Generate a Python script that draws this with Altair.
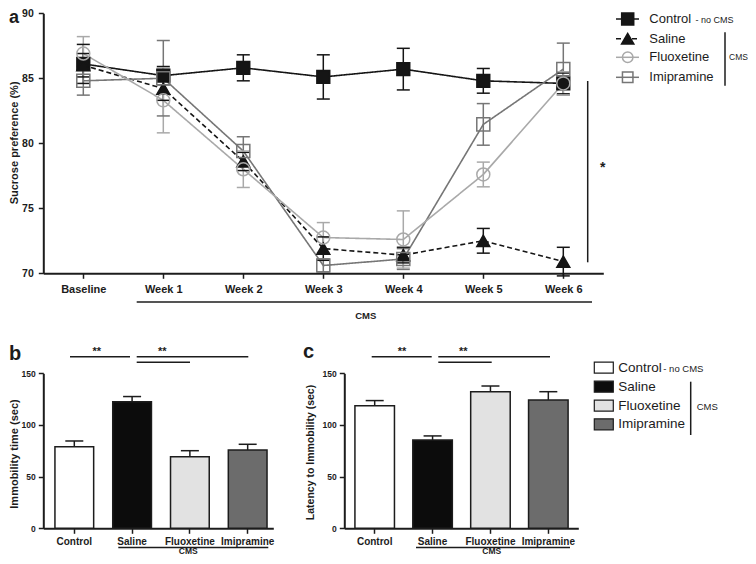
import altair as alt
import pandas as pd

# ---------------- data ----------------
weeks = ["Baseline", "Week 1", "Week 2", "Week 3", "Week 4", "Week 5", "Week 6"]
groups = ["Control", "Saline", "Fluoxetine", "Imipramine"]

control_mean = [86.1, 85.2, 85.8, 85.1, 85.7, 84.8, 84.6]
control_sem = [1.5, 0.7, 1.0, 1.7, 1.6, 0.95, 0.8]
saline_mean = [86.0, 84.2, 78.6, 71.9, 71.4, 72.5, 70.9]
saline_sem = [0.9, 0.9, 0.7, 0.9, 0.6, 0.95, 1.1]
fluox_mean = [86.9, 83.3, 78.0, 72.75, 72.6, 77.6, 84.6]
fluox_sem = [1.3, 2.5, 1.4, 1.15, 2.2, 0.95, 0.9]
imip_mean = [84.8, 85.0, 79.4, 70.6, 71.1, 81.45, 85.7]
imip_sem = [1.1, 2.9, 1.1, 0.5, 0.8, 1.6, 2.0]

immobility_mean = [79.0, 122.5, 69.3, 75.8]
immobility_sem = [5.5, 5.0, 5.8, 5.5]
latency_mean = [118.6, 85.4, 132.2, 124.2]
latency_sem = [5.0, 4.0, 5.5, 8.0]

# ---------------- layout / style ----------------
W, H = 740, 548
M = 8


def P(v):
    return v - M


FONT = "Liberation Sans"
INK = "#1c1c1c"
line_colors = ["#151515", "#151515", "#a9a9a9", "#767676"]
bar_fills = ["#ffffff", "#0c0c0c", "#e2e2e2", "#6c6c6c"]
shapes = ["square", "triangle-up", "circle", "square"]
point_fills = ["#151515", "#151515", "transparent", "transparent"]
point_sizes = [165, 170, 130, 130]
dashes = [[1, 0], [5, 3], [1, 0], [1, 0]]

means = {"Control": control_mean, "Saline": saline_mean,
         "Fluoxetine": fluox_mean, "Imipramine": imip_mean}
sems = {"Control": control_sem, "Saline": saline_sem,
        "Fluoxetine": fluox_sem, "Imipramine": imip_sem}
draw_order = ["Control", "Saline", "Imipramine", "Fluoxetine"]
rows = []
for g in draw_order:
    for w, m, s in zip(weeks, means[g], sems[g]):
        rows.append({"week": w, "group": g, "mean": m, "lo": m - s, "hi": m + s})
df_a = pd.DataFrame(rows)

df_b = pd.DataFrame({"group": groups, "mean": immobility_mean,
                     "hi": [m + s for m, s in zip(immobility_mean, immobility_sem)]})
df_c = pd.DataFrame({"group": groups, "mean": latency_mean,
                     "hi": [m + s for m, s in zip(latency_mean, latency_sem)]})
one = pd.DataFrame({"k": [0]})

common_axis = dict(grid=False, domainColor=INK, domainWidth=2, tickColor=INK,
                   tickWidth=1.5, tickSize=5, labelColor=INK, labelFont=FONT,
                   labelFontWeight="bold", labelOverlap=False, titleFont=FONT,
                   titleColor=INK, titleFontWeight="bold")

# ---------------- panel a ----------------
xa_scale = alt.Scale(type="point", domain=weeks, range=[P(43.3), P(603.3)], padding=0.5)
ya_scale = alt.Scale(domain=[70, 90], range=[P(273.3), P(13.2)], nice=False, zero=False)
xa_axis = alt.Axis(orient="bottom", offset=-(H - P(273.3)), title=None, labelAngle=0,
                   labelFontSize=11, labelPadding=5, **common_axis)
ya_axis = alt.Axis(orient="left", offset=-P(43.3), values=[70, 75, 80, 85, 90],
                   title="Sucrose preference (%)", labelFontSize=10.5, labelPadding=5,
                   titleFontSize=11, titleAngle=270, titleAlign="center",
                   titleBaseline="middle", titleX=P(14) - P(43.3), titleY=P(142.4),
                   **common_axis)


def xa():
    return alt.X("week:N", sort=weeks, scale=xa_scale, axis=xa_axis)


def ya(field):
    return alt.Y(field, scale=ya_scale, axis=ya_axis)


color_a = alt.Color("group:N", scale=alt.Scale(domain=groups, range=line_colors), legend=None)

base_a = alt.Chart(df_a)
lines_a = base_a.mark_line(strokeWidth=1.6).encode(
    x=xa(), y=ya("mean:Q"), color=color_a,
    strokeDash=alt.StrokeDash("group:N", scale=alt.Scale(domain=groups, range=dashes), legend=None),
)
err_a = base_a.mark_rule(strokeWidth=1.5).encode(x=xa(), y=ya("lo:Q"), y2="hi:Q", color=color_a)
caps_hi_a = base_a.mark_tick(orient="horizontal", size=13, thickness=1.5, opacity=1).encode(
    x=xa(), y=ya("hi:Q"), color=color_a)
caps_lo_a = base_a.mark_tick(orient="horizontal", size=13, thickness=1.5, opacity=1).encode(
    x=xa(), y=ya("lo:Q"), color=color_a)
points_a = base_a.mark_point(opacity=1, strokeWidth=1.5).encode(
    x=xa(), y=ya("mean:Q"),
    shape=alt.Shape("group:N", scale=alt.Scale(domain=groups, range=shapes), legend=None),
    fill=alt.Fill("group:N", scale=alt.Scale(domain=groups, range=point_fills), legend=None),
    stroke=alt.Stroke("group:N", scale=alt.Scale(domain=groups, range=line_colors), legend=None),
    size=alt.Size("group:N", scale=alt.Scale(domain=groups, range=point_sizes), legend=None),
)
panel_a = alt.layer(lines_a, err_a, caps_hi_a, caps_lo_a, points_a)


# ---------------- panels b and c ----------------
def bar_panel(df, x0, x1, pin, pout, align, title, title_x, title_y, title_size):
    xs = alt.Scale(type="band", domain=groups, range=[P(x0), P(x1)],
                   paddingInner=pin, paddingOuter=pout, align=align)
    ys = alt.Scale(domain=[0, 150], range=[P(528.3), P(373.3)], nice=False)
    xax = alt.Axis(orient="bottom", offset=-(H - P(528.3)), title=None, labelAngle=0,
                   labelFontSize=10, labelPadding=3, **common_axis)
    yax = alt.Axis(orient="left", offset=-P(x0), values=[0, 50, 100, 150], title=title,
                   labelFontSize=8.5, labelPadding=3, titleFontSize=title_size,
                   titleAngle=270, titleAlign="center", titleBaseline="middle",
                   titleX=P(title_x) - P(x0), titleY=P(title_y), **common_axis)
    X = alt.X("group:N", sort=groups, scale=xs, axis=xax)
    base = alt.Chart(df)
    bars = base.mark_bar(stroke=INK, strokeWidth=1.5).encode(
        x=X, y=alt.Y("mean:Q", scale=ys, axis=yax),
        fill=alt.Fill("group:N", scale=alt.Scale(domain=groups, range=bar_fills), legend=None),
    )
    err = base.mark_rule(color=INK, strokeWidth=1.5).encode(
        x=X, y=alt.Y("mean:Q", scale=ys, axis=yax), y2="hi:Q")
    cap = base.mark_tick(orient="horizontal", size=18, thickness=1.5, color=INK, opacity=1).encode(
        x=X, y=alt.Y("hi:Q", scale=ys, axis=yax))
    return alt.layer(err, bars, cap)


panel_b = bar_panel(df_b, 43.3, 273.3, 0.33, 0.155, 0.65, "Immobility time (sec)", 14, 453.5, 11)
panel_c = bar_panel(df_c, 344.3, 578.3, 0.317, 0.18, 0.51, "Latency to Immobility (sec)", 310, 452, 10.5)


# ---------------- annotations ----------------
def txt(x, y, s, size, weight="normal", align="left", baseline="middle", color=INK):
    return alt.Chart(one).mark_text(text=s, font=FONT, fontSize=size, fontWeight=weight,
                                    align=align, baseline=baseline, color=color).encode(
        x=alt.value(P(x)), y=alt.value(P(y)))


def seg(x1, y1, x2, y2, w=1.5, color=INK, dash=None):
    kw = dict(strokeWidth=w, color=color)
    if dash:
        kw["strokeDash"] = dash
    return alt.Chart(one).mark_rule(**kw).encode(
        x=alt.value(P(x1)), x2=alt.value(P(x2)), y=alt.value(P(y1)), y2=alt.value(P(y2)))


ann = []
# panel letters
ann += [txt(9, 22.5, "a", 18, "bold", baseline="alphabetic"),
        txt(9, 360, "b", 20, "bold", baseline="alphabetic"),
        txt(303, 358.3, "c", 20, "bold", baseline="alphabetic")]
# panel a: significance and CMS underline
ann += [seg(587.7, 81, 587.7, 262.3), txt(602.7, 168, "*", 14, "bold", "center"),
        seg(136.7, 302, 592, 302), txt(365.7, 315.7, "CMS", 9.5, "bold", "center")]
# panel a legend
leg_rows_a = [19, 38.8, 57.3, 77.3]
for i, g in enumerate(groups):
    yy = leg_rows_a[i]
    ann.append(seg(616, yy, 639, yy, 1.5, line_colors[i], dashes[i] if i == 1 else None))
    ann.append(alt.Chart(one).mark_point(shape=shapes[i], size=point_sizes[i] - 20, opacity=1,
                                         fill=point_fills[i], stroke=line_colors[i],
                                         strokeWidth=1.5).encode(
        x=alt.value(P(627.7)), y=alt.value(P(yy))))
    ann.append(txt(649.3, yy, g, 13))
ann += [txt(695.5, 20, "- no CMS", 9), seg(725, 32.3, 725, 85.7),
        txt(729, 56.7, "CMS", 8.5)]
# panel b significance + CMS underline
ann += [seg(70, 356.7, 130, 356.7), seg(136.7, 356.7, 248.3, 356.7), seg(136.7, 362.3, 190, 362.3),
        txt(96.7, 351.5, "**", 11, "bold", "center"), txt(162.3, 351.5, "**", 11, "bold", "center"),
        seg(118.3, 547.5, 268.3, 547.5), txt(188.3, 551.0, "CMS", 8.5, "bold", "center")]
# panel c significance + CMS underline
ann += [seg(371.7, 356.7, 431.7, 356.7), seg(438.3, 356.7, 550, 356.7), seg(438.3, 362.3, 491.7, 362.3),
        txt(402, 351.5, "**", 11, "bold", "center"), txt(463.3, 351.5, "**", 11, "bold", "center"),
        seg(416, 547.5, 570, 547.5), txt(491.7, 551.0, "CMS", 8.5, "bold", "center")]
# panel c legend
leg_rows_c = [367.7, 386.7, 405.7, 424.3]
for i, g in enumerate(groups):
    yy = leg_rows_c[i]
    ann.append(alt.Chart(one).mark_rect(fill=bar_fills[i], stroke=INK, strokeWidth=1.2).encode(
        x=alt.value(P(594.3)), x2=alt.value(P(613.3)),
        y=alt.value(P(yy - 5.5)), y2=alt.value(P(yy + 5.5))))
    ann.append(txt(618.3, yy, g, 13.5))
ann += [txt(663.3, 368.5, "- no CMS", 9.5), seg(690.7, 381.7, 690.7, 435),
        txt(696.7, 407.3, "CMS", 9.5)]

chart = alt.layer(panel_a, panel_b, panel_c, *ann).resolve_scale(
    x="independent", y="independent", color="independent", fill="independent",
    stroke="independent", shape="independent", size="independent", strokeDash="independent",
).properties(
    width=W, height=H, autosize=alt.AutoSizeParams(type="none"), padding=0,
).configure_view(stroke=None)

chart.save("out.html", embed_options={"renderer": "svg", "actions": False})
